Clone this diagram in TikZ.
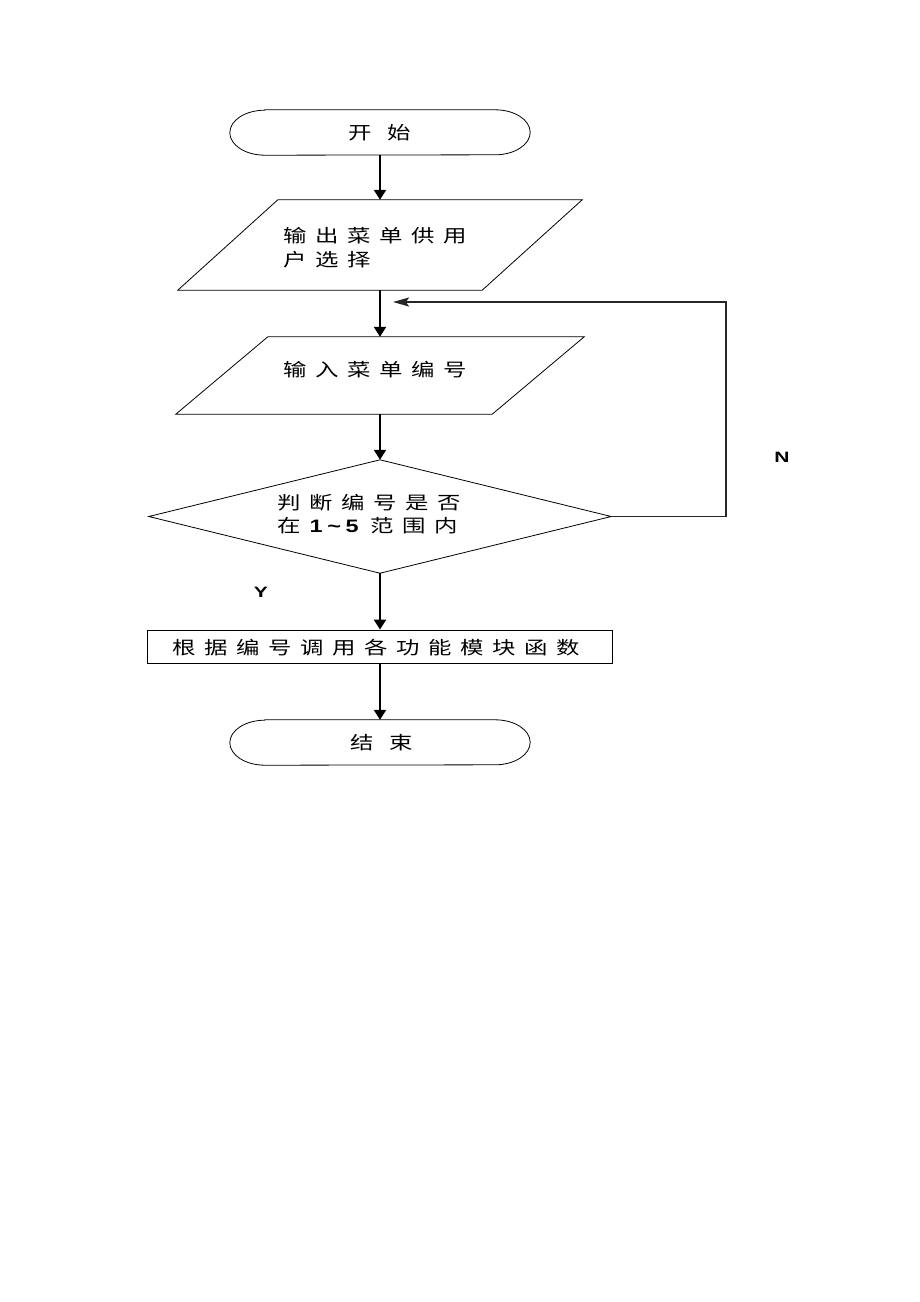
\documentclass[tikz,border=0pt]{standalone}
\usepackage{fontspec}
\usepackage{graphicx}
\usetikzlibrary{arrows.meta}
\newfontfamily\cjk[LetterSpace=37]{Noto Sans CJK SC}
\newfontfamily\cjkn{Noto Sans CJK SC}
\newfontfamily\lat[LetterSpace=20]{Liberation Sans}
\newcommand{\widetxt}[1]{\scalebox{1.3}[1]{#1}}
\tikzset{
  shp/.style={draw=none, inner sep=0pt},
  outline/.style={draw=black, line width=0.8pt},
  arr/.style={draw=black, line width=2.2pt, -{Triangle[length=10pt,width=12pt]}},
  fb/.style={draw=black!85, line width=1.8pt, -{Stealth[length=16pt,width=9pt,inset=3pt]}},
  txt/.style={inner sep=0pt, anchor=west, font=\fontsize{18pt}{20pt}\selectfont\cjk},
  lab/.style={inner sep=0pt, font=\fontsize{15pt}{17pt}\selectfont\lat\bfseries},
}
\begin{document}
\begin{tikzpicture}[x=1pt,y=-1pt]
\fill[white] (0,0) rectangle (920,1302);
\useasboundingbox (0,0) rectangle (920,1302);

% start terminal
\node[shp, minimum width=300, minimum height=45] (start) at (380,132.5) {};
\draw[outline] ([xshift=35]start.north west) -- ([xshift=-35]start.north east)
  arc[start angle=90,end angle=-90,x radius=35pt,y radius=22.5pt]
  -- ([xshift=35]start.south west)
  arc[start angle=270,end angle=90,x radius=35pt,y radius=22.5pt] -- cycle;
\node[txt, font=\fontsize{18pt}{20pt}\selectfont\cjkn] (starttxt) at (348,133) {\widetxt{开\hspace{12pt}始}};

% output menu
\node[shp, minimum width=304, minimum height=90] (p1) at (380,245) {};
\draw[outline] ([xshift=50]p1.north west) -- ([xshift=50]p1.north east)
  -- ([xshift=-50]p1.south east) -- ([xshift=-50]p1.south west) -- cycle;
\node[txt] (p1a) at (283,236) {\widetxt{输出菜单供用}};
\node[txt] (p1b) at (283,260) {\widetxt{户选择}};

% input number
\node[shp, minimum width=316, minimum height=77] (p2) at (380,375.5) {};
\draw[outline] ([xshift=46]p2.north west) -- ([xshift=46]p2.north east)
  -- ([xshift=-46]p2.south east) -- ([xshift=-46]p2.south west) -- cycle;
\node[txt] (p2a) at (283,370) {\widetxt{输入菜单编号}};

% decision
\node[shp, minimum width=462, minimum height=113] (dec) at (380,516.5) {};
\draw[outline] (dec.north) -- (dec.east) -- (dec.south) -- (dec.west) -- cycle;
\node[txt] (deca) at (277,503) {\widetxt{判断编号是否}};
\node[txt] (decb) at (277,526) {\widetxt{在\hspace{7pt}\makebox[47pt][l]{\lat\bfseries 1\string~5}范围内}};

% process
\node[shp, draw=black, line width=0.8pt, minimum width=465, minimum height=33] (proc) at (380,646.5) {};
\node[txt] (proctxt) at (172,648) {\widetxt{根据编号调用各功能模块函数}};

% end terminal
\node[shp, minimum width=300, minimum height=45] (stop) at (380,742.5) {};
\draw[outline] ([xshift=35]stop.north west) -- ([xshift=-35]stop.north east)
  arc[start angle=90,end angle=-90,x radius=35pt,y radius=22.5pt]
  -- ([xshift=35]stop.south west)
  arc[start angle=270,end angle=90,x radius=35pt,y radius=22.5pt] -- cycle;
\node[txt, font=\fontsize{18pt}{20pt}\selectfont\cjkn] (stoptxt) at (350,743) {\widetxt{结\hspace{12pt}束}};

% connectors
\draw[arr] (start.south) -- (p1.north);
\draw[arr] (p1.south) -- (p2.north);
\draw[arr] (p2.south) -- (dec.north);
\draw[arr] (dec.south) -- (proc.north);
\draw[arr] (proc.south) -- (stop.north);

\coordinate (rc) at (726,302);
\coordinate (loopin) at (393,302);
\draw[fb] (dec.east) -| (rc) -- (loopin);

% labels
\node[lab] (nlab) at (782,457) {\scalebox{1.4}[1]{N}};
\node[lab] (ylab) at (261,592) {\scalebox{1.4}[1]{Y}};
\end{tikzpicture}
\end{document}
